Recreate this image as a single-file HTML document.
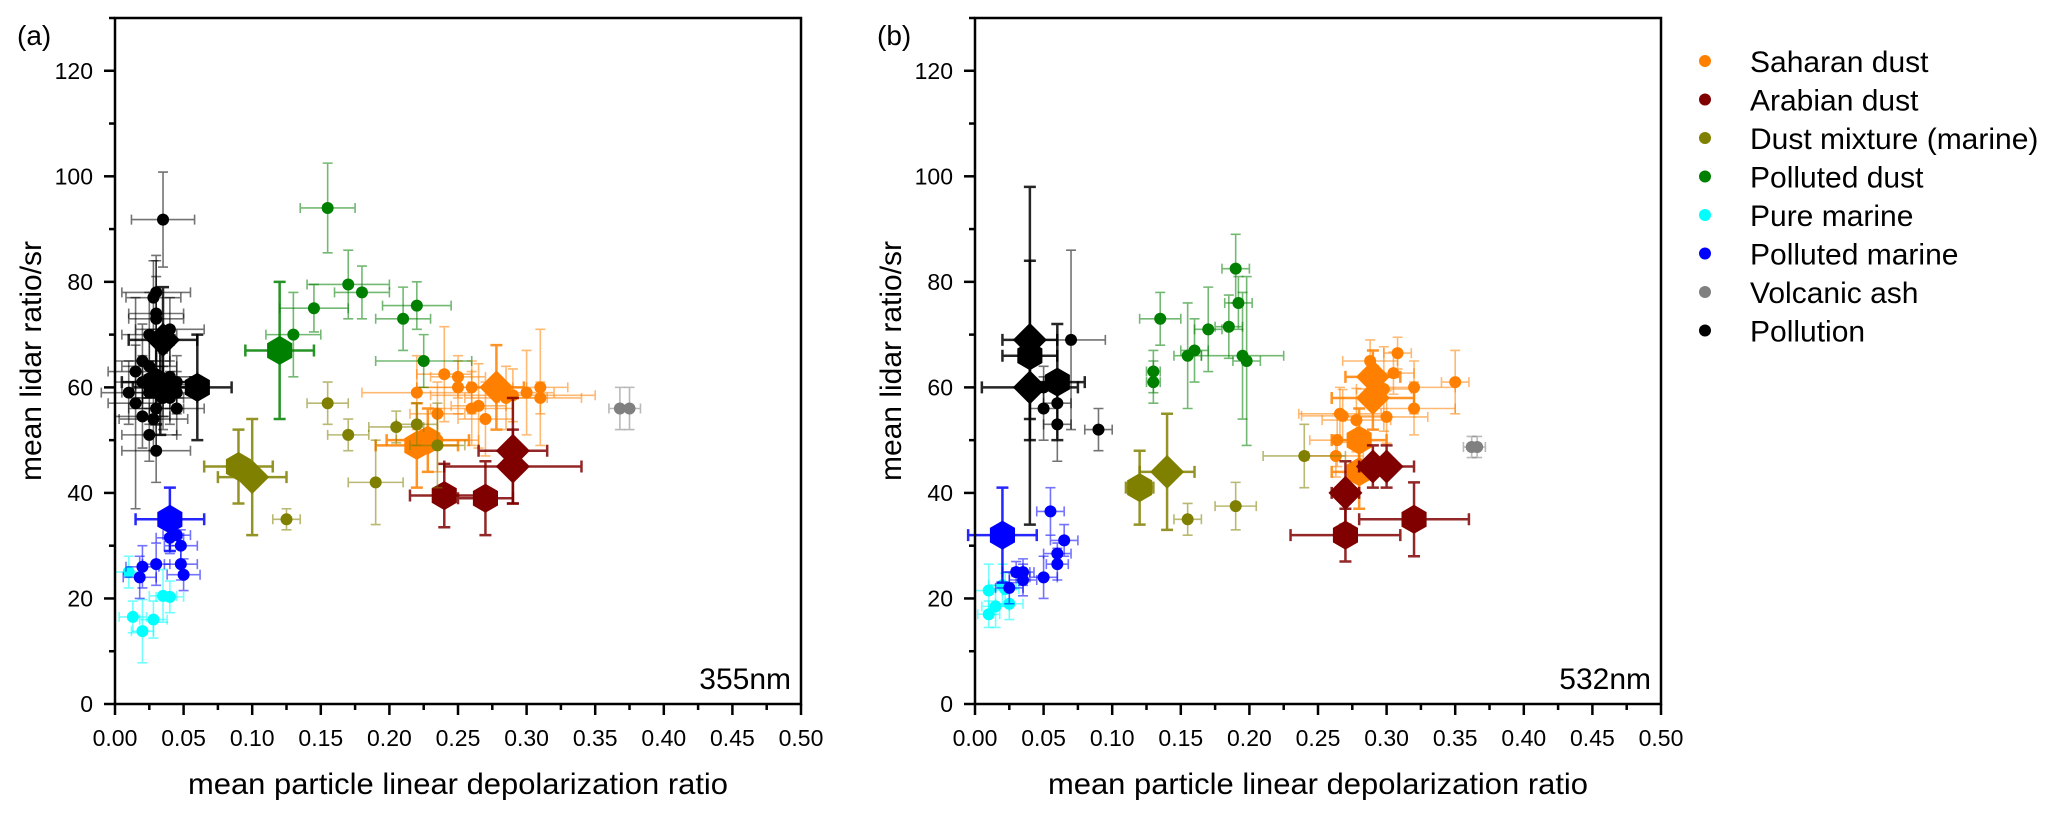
<!DOCTYPE html>
<html><head><meta charset="utf-8">
<style>
html,body{margin:0;padding:0;background:#fff;}
svg{display:block;font-family:"Liberation Sans",Arial,sans-serif;}
</style></head>
<body>
<svg id="chart" width="2067" height="817" viewBox="0 0 2067 817" xmlns="http://www.w3.org/2000/svg">
<rect x="0" y="0" width="2067" height="817" fill="#fff"/>
<g id="legend"></g>
</svg>
<script>
// categories
const categories = ["Saharan dust","Arabian dust","Dust mixture (marine)","Polluted dust","Pure marine","Polluted marine","Volcanic ash","Pollution"];
const colors = ["#ff8000","#800000","#808000","#008000","#00ffff","#0000ff","#808080","#000000"];
const xTicks = [0,0.05,0.1,0.15,0.2,0.25,0.3,0.35,0.4,0.45,0.5];
const xTickLabels = ["0.00","0.05","0.10","0.15","0.20","0.25","0.30","0.35","0.40","0.45","0.50"];
const yTicks = [0,20,40,60,80,100,120];
const yTickLabels = ["0","20","40","60","80","100","120"];

// Panel (a) 355nm: small points [x, y, xerr, yerr]; big markers [x, y, xerr, yerr, shape]
const a355_saharan = [[0.24,62.5,0.02,9],[0.25,62,0.02,4],[0.22,59,0.04,7],[0.235,55,0.02,6],[0.25,60,0.03,5],[0.26,56,0.03,7],[0.265,56.5,0.02,8],[0.27,54,0.02,7],[0.285,58,0.03,6],[0.30,59,0.02,8],[0.31,60,0.02,11],[0.31,58,0.03,3],[0.235,50,0.03,6],[0.26,60,0.04,5],[0.29,58.5,0.06,5]];
const a355_saharanBig = [[0.278,60,0.02,8,"d"],[0.22,49,0.03,8,"h"],[0.228,50,0.03,6,"h"]];
const a355_arabian = [];
const a355_arabianBig = [[0.29,48,0.025,10,"d"],[0.29,45,0.05,7,"d"],[0.24,39.5,0.025,6,"h"],[0.27,39,0.02,7,"h"]];
const a355_mixture = [[0.155,57,0.015,4],[0.17,51,0.015,3],[0.205,52.5,0.02,3],[0.19,42,0.02,8],[0.22,53,0.015,4],[0.125,35,0.01,2],[0.235,49,0.02,8]];
const a355_mixtureBig = [[0.09,45,0.025,7,"h"],[0.10,43,0.025,11,"d"]];
const a355_pollDust = [[0.155,94,0.02,8.5],[0.17,79.5,0.03,6.5],[0.18,78,0.02,5],[0.145,75,0.025,4.5],[0.13,70,0.02,8],[0.21,73,0.02,6],[0.22,75.5,0.025,4.5],[0.225,65,0.035,5]];
const a355_pollDustBig = [[0.12,67,0.025,13,"h"]];
const a355_pure = [[0.01,25,0.01,3],[0.035,20.5,0.01,5],[0.04,20.3,0.01,3],[0.013,16.5,0.01,3],[0.02,13.8,0.008,6],[0.028,16,0.01,3.5]];
const a355_pureBig = [];
const a355_pollMar = [[0.04,31.5,0.01,3],[0.045,32,0.01,2],[0.048,30,0.012,3],[0.02,26,0.012,4],[0.03,26.5,0.01,4],[0.048,26.5,0.012,3],[0.05,24.5,0.012,3],[0.018,24,0.012,4]];
const a355_pollMarBig = [[0.04,35,0.025,6,"h"]];
const a355_volc = [[0.368,56,0.008,4],[0.375,56,0.008,4]];
const a355_volcBig = [];
const a355_pollution = [[0.035,91.8,0.023,9],[0.03,78,0.025,7],[0.028,77,0.02,7],[0.03,74,0.02,10],[0.03,73,0.02,8],[0.04,71,0.025,6],[0.025,70,0.02,8],[0.02,65,0.02,7],[0.025,64,0.02,6],[0.015,63,0.02,5],[0.02,61,0.02,5],[0.025,59,0.02,6],[0.035,58,0.015,6],[0.04,58,0.02,5],[0.045,61,0.015,5],[0.04,62,0.02,6],[0.045,56,0.02,5],[0.02,54.5,0.02,6],[0.028,54,0.025,6],[0.03,56,0.02,8],[0.025,51,0.02,5],[0.03,48,0.025,6],[0.01,59,0.02,6],[0.015,57,0.02,20],[0.035,60.5,0.02,6],[0.045,59,0.02,4]];
const a355_pollutionBig = [[0.035,69,0.025,10,"d"],[0.03,61,0.025,8,"h"],[0.06,60,0.025,10,"h"],[0.033,60,0.02,9,"d"]];

// Panel (b) 532nm
const b532_saharan = [[0.35,61,0.01,6],[0.308,66.5,0.01,3],[0.288,65,0.02,4],[0.305,62.7,0.015,4],[0.298,59.7,0.02,8],[0.32,60,0.03,5],[0.32,56,0.03,5],[0.266,55,0.03,5],[0.268,54.6,0.03,5],[0.278,53.8,0.025,6],[0.30,54.4,0.03,5],[0.264,50,0.02,5],[0.263,47,0.02,4]];
const b532_saharanBig = [[0.29,62,0.02,5,"d"],[0.29,58,0.03,6,"d"],[0.28,50,0.02,6,"h"],[0.28,44,0.02,7,"h"]];
const b532_arabian = [];
const b532_arabianBig = [[0.29,45,0.01,4,"d"],[0.30,45,0.02,4,"d"],[0.27,40,0.01,6,"d"],[0.27,32,0.04,5,"h"],[0.32,35,0.04,7,"h"]];
const b532_mixture = [[0.155,35,0.01,3],[0.19,37.5,0.015,4.5],[0.24,47,0.03,6]];
const b532_mixtureBig = [[0.12,41,0.01,7,"h"],[0.14,44,0.02,11,"d"]];
const b532_pollDust = [[0.135,73,0.015,5],[0.19,82.5,0.01,6.5],[0.192,76,0.01,5],[0.185,71.5,0.01,6],[0.17,71,0.01,8],[0.16,67,0.01,6],[0.155,66,0.01,10],[0.195,66,0.03,12],[0.198,65,0.01,16],[0.13,63,0.005,4],[0.13,61,0.005,4]];
const b532_pollDustBig = [];
const b532_pure = [[0.01,21.5,0.01,5],[0.02,22.5,0.01,4],[0.022,21.8,0.01,3],[0.025,19,0.01,3],[0.01,17,0.008,2.5],[0.015,18.5,0.01,4]];
const b532_pureBig = [];
const b532_pollMar = [[0.055,36.5,0.01,4.5],[0.065,31,0.01,3],[0.06,28.5,0.01,2],[0.06,26.5,0.008,3],[0.05,24,0.01,4],[0.03,25,0.01,2],[0.035,25,0.008,2.5],[0.035,23.5,0.01,3],[0.025,22,0.01,3]];
const b532_pollMarBig = [[0.02,32,0.025,9,"h"]];
const b532_volc = [[0.362,48.7,0.006,2],[0.366,48.7,0.006,2]];
const b532_volcBig = [];
const b532_pollution = [[0.07,69,0.025,17],[0.05,60,0.01,4],[0.05,56,0.01,6],[0.06,57,0.01,4],[0.06,53,0.01,7],[0.09,52,0.01,4]];
const b532_pollutionBig = [[0.04,69,0.02,15,"d"],[0.04,66,0.02,32,"h"],[0.04,60,0.035,10,"d"],[0.06,61,0.02,11,"h"]];

const NS = "http://www.w3.org/2000/svg";
const svg = document.getElementById("chart");
const TOP = 18, BOT = 704, W = 686, XMAX = 0.5, YMAX = 130;

function mk(tag, attrs, parent){
  const e = document.createElementNS(NS, tag);
  for (const k in attrs) e.setAttribute(k, attrs[k]);
  parent.appendChild(e);
  return e;
}
function makeX(L){ return v => L + v / XMAX * W; }
function yScale(v){ return BOT - v / YMAX * (BOT - TOP); }

function errBar(g, sx, p, color, big){
  const x = sx(p[0]), y = yScale(p[1]);
  const x1 = sx(p[0]-p[2]), x2 = sx(p[0]+p[2]);
  const y1 = yScale(p[1]+p[3]), y2 = yScale(p[1]-p[3]);
  const c = big ? 6 : 5;
  const eb = mk("g", {stroke: color, "stroke-width": big ? 2.5 : 1.6, opacity: big ? 0.85 : 0.55, fill: "none"}, g);
  
  
  mk("path", {d: `M${x1},${y}H${x2}M${x1},${y-c}V${y+c}M${x2},${y-c}V${y+c}M${x},${y1}V${y2}M${x-c},${y1}H${x+c}M${x-c},${y2}H${x+c}`}, eb);
}
function marker(g, sx, p, color, big){
  const x = sx(p[0]), y = yScale(p[1]);
  let m;
  if (!big){
    m = mk("circle", {cx: x, cy: y, r: 6, fill: color}, g);
    
  } else if (p[4] === "d"){
    const r = 17;
    m = mk("polygon", {points: `${x},${y-r} ${x+r},${y} ${x},${y+r} ${x-r},${y}`, fill: color}, g);
    
  } else {
    const r = 14.5; let pts = [];
    for (let i = 0; i < 6; i++){ const a = Math.PI/2 + i*Math.PI/3; pts.push((x+r*Math.cos(a)).toFixed(1)+","+(y-r*Math.sin(a)).toFixed(1)); }
    m = mk("polygon", {points: pts.join(" "), fill: color}, g);
    
  }
  
}

function drawPanel(L, label, wl, small, bigs, pname){
  const sx = makeX(L);
  const g = mk("g", {}, svg);
  
  
  // series
  for (let s = 0; s < small.length; s++){
    const sg = mk("g", {}, g);
    
    
    small[s].forEach(p => errBar(sg, sx, p, colors[s], false));
    bigs[s].forEach(p => errBar(sg, sx, p, colors[s], true));
    small[s].forEach(p => marker(sg, sx, p, colors[s], false));
    bigs[s].forEach(p => marker(sg, sx, p, colors[s], true));
  }
  // frame
  const fr = mk("rect", {x: L, y: TOP, width: W, height: BOT-TOP, fill: "none", stroke: "#000", "stroke-width": 2.5}, g);
  
  
  // x ticks
  const xa = mk("g", {}, g);
  
  
  xTicks.forEach((v, i) => {
    const x = sx(v);
    mk("line", {x1: x, y1: BOT, x2: x, y2: BOT+11, stroke: "#000", "stroke-width": 2.5}, xa);
    if (i < xTicks.length-1){ const xm = sx(v + 0.025); mk("line", {x1: xm, y1: BOT, x2: xm, y2: BOT+6, stroke: "#000", "stroke-width": 2.5}, xa); }
    const t = mk("text", {x: x, y: BOT+42, "text-anchor": "middle", "font-size": 23}, xa);
    t.textContent = xTickLabels[i];
    
    
  });
  const xt = mk("text", {x: L + W/2, y: 794, "text-anchor": "middle", "font-size": 30, textLength: 540, lengthAdjust: "spacingAndGlyphs"}, g);
  xt.textContent = "mean particle linear depolarization ratio";
  
  
  // y ticks
  const ya = mk("g", {}, g);
  
  
  for (let v = 0; v <= 130; v += 10){
    const y = yScale(v);
    mk("line", {x1: L, y1: y, x2: L - (v % 20 === 0 ? 11 : 6), y2: y, stroke: "#000", "stroke-width": 2.5}, ya);
  }
  yTicks.forEach((v, i) => {
    const t = mk("text", {x: L-22, y: yScale(v)+8, "text-anchor": "end", "font-size": 23}, ya);
    t.textContent = yTickLabels[i];
    
    
  });
  const cy = 361, cx = L - 84;
  const yt = mk("text", {x: cx, y: cy, "text-anchor": "middle", "font-size": 30, transform: `rotate(-90 ${cx} ${cy}) translate(0 10)`}, g);
  yt.textContent = "mean lidar ratio/sr";
  
  
  const pl = mk("text", {x: L - 98, y: 45, "font-size": 28}, g);
  pl.textContent = label;
  
  
  const wt = mk("text", {x: L + W - 10, y: 689, "text-anchor": "end", "font-size": 30}, g);
  wt.textContent = wl;
  
  
}

drawPanel(115, "(a)", "355nm",
  [a355_saharan,a355_arabian,a355_mixture,a355_pollDust,a355_pure,a355_pollMar,a355_volc,a355_pollution],
  [a355_saharanBig,a355_arabianBig,a355_mixtureBig,a355_pollDustBig,a355_pureBig,a355_pollMarBig,a355_volcBig,a355_pollutionBig], "panel-355nm");
drawPanel(975, "(b)", "532nm",
  [b532_saharan,b532_arabian,b532_mixture,b532_pollDust,b532_pure,b532_pollMar,b532_volc,b532_pollution],
  [b532_saharanBig,b532_arabianBig,b532_mixtureBig,b532_pollDustBig,b532_pureBig,b532_pollMarBig,b532_volcBig,b532_pollutionBig], "panel-532nm");

// legend
const lg = document.getElementById("legend");
svg.appendChild(lg);
categories.forEach((c, i) => {
  const y = 61 + i * 38.5;
  const e = mk("g", {}, lg);
  
  
  mk("circle", {cx: 1705, cy: y, r: 6, fill: colors[i]}, e);
  const t = mk("text", {x: 1750, y: y + 11, "font-size": 30}, e);
  t.textContent = c;
});
</script>
</body></html>
